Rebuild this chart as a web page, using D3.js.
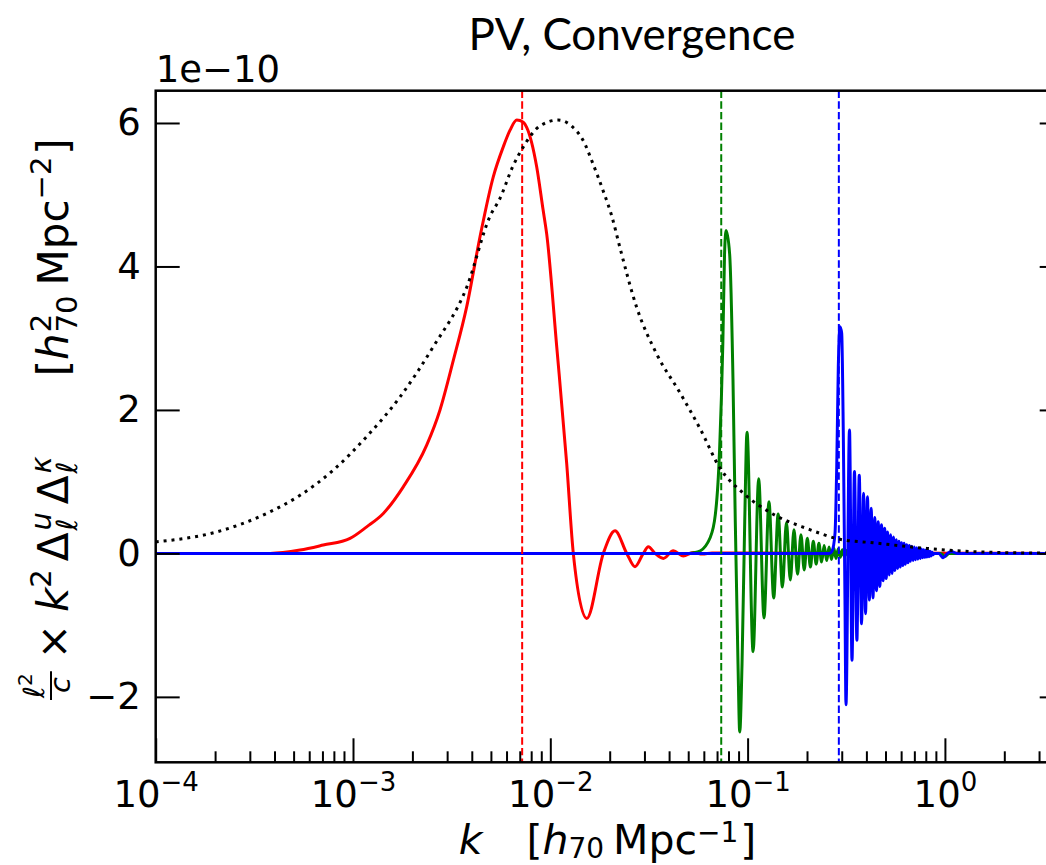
<!DOCTYPE html>
<html><head><meta charset="utf-8">
<script src="https://cdn.jsdelivr.net/npm/d3@7"></script>
<style>body{margin:0;background:#fff}svg{display:block}</style>
</head><body><svg id="c" width="1046" height="865"></svg>
<script>
// ---------------- data ----------------
const xMajorTicks = [1e-4, 1e-3, 1e-2, 1e-1, 1e0];
const xTickExponents = ["−4", "−3", "−2", "−1", "0"];
const yTicks = [-2, 0, 2, 4, 6];
const yTickLabels = ["−2", "0", "2", "4", "6"];
const offsetLabel = "1e−10";
const titleText = "PV, Convergence";
const vlineK = [0.0072, 0.0735, 0.29];

// black dotted curve (units of 1e-10)
const dotK = [1e-4, 2.04e-4, 3.65e-4, 5.39e-4, 7.94e-4, 1.17e-3, 1.73e-3, 2.55e-3, 3.77e-3, 4.95e-3, 5.56e-3, 6.47e-3, 7.27e-3, 8.87e-3, 1.094e-2, 1.303e-2, 1.465e-2, 1.646e-2, 1.85e-2, 2.055e-2, 2.25e-2, 2.74e-2, 3.46e-2, 4.54e-2, 5.74e-2, 7.24e-2, 9.51e-2, 0.135, 0.20, 0.294, 0.433, 0.774, 1.39, 3.03, 4];
const dotV = [0.16, 0.30, 0.557, 0.81, 1.16, 1.625, 2.18, 2.88, 3.71, 4.70, 4.95, 5.40, 5.66, 5.96, 6.04, 5.94, 5.76, 5.43, 5.06, 4.69, 4.27, 3.43, 2.78, 2.24, 1.74, 1.19, 0.84, 0.545, 0.346, 0.197, 0.148, 0.074, 0.024, 0.005, 0.004];

// red curve
const redK = [1e-4, 3.0e-4, 3.80e-4, 5.39e-4, 7.07e-4, 9.66e-4, 1.173e-3, 1.424e-3, 1.798e-3, 2.363e-3, 2.76e-3, 3.224e-3, 3.77e-3, 4.40e-3, 5.14e-3, 5.78e-3, 6.25e-3, 6.76e-3, 7.30e-3, 7.59e-3, 8.53e-3, 9.18e-3, 9.59e-3, 1.078e-2, 1.211e-2, 1.308e-2, 1.53e-2, 1.856e-2, 2.128e-2, 2.44e-2, 2.687e-2, 2.96e-2, 3.14e-2, 3.395e-2, 3.74e-2, 4.20e-2, 4.72e-2, 5.31e-2, 5.9e-2, 6.6e-2, 4];
const redV = [0, 0, 0.0, 0.046, 0.116, 0.209, 0.37, 0.557, 0.928, 1.509, 2.0, 2.69, 3.44, 4.41, 5.25, 5.67, 5.90, 6.04, 6.01, 5.94, 5.39, 4.8, 4.45, 2.88, 1.25, 0, -0.906, 0, 0.315, 0, -0.186, 0, 0.092, 0, -0.07, 0.036, -0.037, 0.014, -0.01, 0.005, 0];

// green curve
const greenK = [1e-4, 0.05, 0.0558, 0.0628, 0.0679, 0.0721, 0.0749, 0.0764, 0.0778, 0.0811, 0.0843, 0.0866, 0.0894, 0.0912, 0.0937, 0.0967, 0.0993, 0.1066, 0.1138, 0.1211, 0.1283, 0.1356, 0.1428, 0.1501, 0.1573, 0.1646, 0.1718, 0.1791, 0.1863, 0.1936, 0.2008, 0.2081, 0.2153, 0.2226, 0.2298, 0.2371, 0.2443, 0.2516, 0.2588, 0.2661, 0.2733, 0.2806, 0.2878, 0.2951, 0.3023, 0.3096, 0.3168, 0.3241, 0.3313, 0.3386, 0.3458, 0.36, 0.95, 1.0, 1.05, 4];
const greenV = [0, 0, 0.02, 0.15, 0.45, 1.44, 2.93, 4.17, 4.50, 4.17, 2.43, 0.45, -1.54, -2.49, -1.54, 0.45, 1.69, -1.37, 1.04, -0.90, 0.72, -0.62, 0.55, -0.47, 0.43, -0.37, 0.33, -0.29, 0.26, -0.23, 0.21, -0.19, 0.17, -0.15, 0.14, -0.12, 0.11, -0.10, 0.09, -0.085, 0.075, -0.07, 0.06, -0.055, 0.05, -0.045, 0.04, -0.035, 0.03, -0.025, 0.02, 0, 0, -0.04, 0, 0];

// blue curve
const blueK = [1e-4, 0.26, 0.2677, 0.2773, 0.2829, 0.2882, 0.2939, 0.2998, 0.3055, 0.3115, 0.3152, 0.3284, 0.3381, 0.3480, 0.3580, 0.3680, 0.3780, 0.3870, 0.3960, 0.4050, 0.4140, 0.4230, 0.4320, 0.4410, 0.4500, 0.4590, 0.4680, 0.4770, 0.4860, 0.4950, 0.5040, 0.5130, 0.5220, 0.5310, 0.5400, 0.5490, 0.5580, 0.5670, 0.5760, 0.5850, 0.5940, 0.6030, 0.6120, 0.6210, 0.6300, 0.6400, 0.6500, 0.6600, 0.6700, 0.6800, 0.6900, 0.7000, 0.7100, 0.7200, 0.7300, 0.7400, 0.7500, 0.7600, 0.7700, 0.7800, 0.7900, 0.8000, 0.8100, 0.8200, 0.8300, 0.8400, 0.8500, 0.8600, 0.8700, 0.8800, 0.9300, 0.9800, 1.0300, 1.0800, 1.1500, 4];
const blueV = [0, 0, 0.03, 0.28, 1.2, 2.6, 3.16, 3.07, 1.67, -0.65, -2.11, 1.72, -1.49, 1.14, -1.21, 1.09, -0.98, 0.84, -0.84, 0.79, -0.65, 0.63, -0.62, 0.50, -0.52, 0.44, -0.46, 0.40, -0.38, 0.35, -0.35, 0.30, -0.30, 0.26, -0.28, 0.23, -0.24, 0.19, -0.21, 0.17, -0.19, 0.15, -0.17, 0.14, -0.15, 0.12, -0.13, 0.11, -0.11, 0.10, -0.10, 0.09, -0.09, 0.08, -0.08, 0.07, -0.07, 0.06, -0.06, 0.05, -0.055, 0.045, -0.05, 0.04, -0.045, 0.03, -0.035, 0.02, -0.02, 0, 0, -0.06, 0, 0.025, 0, 0];

// ---------------- layout ----------------
const X0 = 155.7, X1 = 1063.7, YB = 762.3, YT = 90.7;
const FONT = "'DejaVu Sans', sans-serif";
const TFONT = "Lato, 'Open Sans', sans-serif";
const svg = d3.select("#c");
const x = d3.scaleLog().domain([1e-4, 4]).range([X0, X1]);
const y = d3.scaleLinear().domain([-2.912, 6.45]).range([YB, YT]);

svg.append("defs").append("clipPath").attr("id", "clip")
  .append("rect").attr("x", X0).attr("y", YT).attr("width", X1 - X0).attr("height", YB - YT);

const plot = svg.append("g").attr("clip-path", "url(#clip)");
const line = d3.line().x(d => x(d[0])).y(d => y(d[1])).curve(d3.curveMonotoneX);

plot.append("path").datum(d3.zip(redK, redV)).attr("d", line)
  .attr("fill", "none").attr("stroke", "#ff0000").attr("stroke-width", 3);
plot.append("path").datum(d3.zip(greenK, greenV)).attr("d", line)
  .attr("fill", "none").attr("stroke", "#008000").attr("stroke-width", 3);
plot.append("path").datum(d3.zip(blueK, blueV)).attr("d", line)
  .attr("fill", "none").attr("stroke", "#0000ff").attr("stroke-width", 3);

const vColors = ["#ff0000", "#008000", "#0000ff"];
plot.selectAll("line.vl").data(vlineK).join("line").attr("class", "vl")
  .attr("x1", d => x(d)).attr("x2", d => x(d)).attr("y1", YT).attr("y2", YB)
  .attr("stroke", (d, i) => vColors[i]).attr("stroke-width", 2).attr("stroke-dasharray", "7.4,3.2");

plot.append("path").datum(d3.zip(dotK, dotV)).attr("d", line)
  .attr("fill", "none").attr("stroke", "#000").attr("stroke-width", 3).attr("stroke-dasharray", "3,4.95");

// ---------------- axes ----------------
const minorTicks = [];
for (let e = -4; e <= 0; e++) for (let m = 2; m <= 9; m++) { const v = m * Math.pow(10, e); if (v <= 4) minorTicks.push(v); }

const TF = 37;
const gxMinor = svg.append("g").attr("transform", `translate(0,${YB})`)
  .call(d3.axisBottom(x).tickValues(minorTicks).tickSize(-11).tickFormat(""));
const gx = svg.append("g").attr("transform", `translate(0,${YB})`)
  .call(d3.axisBottom(x).tickValues(xMajorTicks).tickSize(-24).tickFormat(""));
const gy = svg.append("g").attr("transform", `translate(${X0},0)`)
  .call(d3.axisLeft(y).tickValues(yTicks).tickSize(-24).tickPadding(15)
    .tickFormat((d, i) => yTickLabels[i]));
const gyR = svg.append("g").attr("transform", `translate(${X1},0)`)
  .call(d3.axisRight(y).tickValues(yTicks).tickSize(-24).tickFormat(""));

[gxMinor, gx, gy, gyR].forEach(g => {
  g.select(".domain").remove();
  g.selectAll(".tick line").attr("stroke", "#000").attr("stroke-width", 2);
});
gy.selectAll(".tick text").attr("font-family", FONT).attr("font-size", TF).attr("fill", "#000");

gx.selectAll(".tick").each(function (d, i) {
  const t = d3.select(this).append("text").attr("y", 45).attr("fill", "#000")
    .attr("font-family", FONT).attr("font-size", TF).attr("text-anchor", "middle");
  t.append("tspan").text("10");
  t.append("tspan").attr("font-size", 26).attr("dy", -16).text(xTickExponents[i]);
});

svg.append("rect").attr("x", X0).attr("y", YT).attr("width", X1 - X0).attr("height", YB - YT)
  .attr("fill", "none").attr("stroke", "#000").attr("stroke-width", 2.5);

// offset text and title
svg.append("text").attr("x", X0).attr("y", 82).attr("font-family", FONT).attr("font-size", TF).text(offsetLabel);
svg.append("text").attr("x", 632).attr("y", 50).attr("text-anchor", "middle")
  .attr("font-family", TFONT).attr("font-size", 44).text(titleText);

// ---------------- math-like labels ----------------
function run(g, pieces) {
  let cx = 0, lastStart = 0;
  pieces.forEach(p => {
    if (p.gap) cx += p.gap;
    const sx = p.stack ? lastStart : cx;
    const t = g.append("text").attr("x", sx).attr("y", p.dy || 0)
      .attr("font-family", FONT).attr("font-size", p.fs)
      .attr("font-style", p.it ? "italic" : "normal").text(p.t);
    const w = t.node().getComputedTextLength();
    if (p.stack) cx = Math.max(cx, sx + w); else { lastStart = sx; cx = sx + w; }
  });
  return cx;
}
const F = 42, S = 29;

// x label
const FX = 41, SX = 28;
const xl = svg.append("g");
const xw = run(xl, [
  {t: "k", fs: FX, it: true},
  {t: "[", fs: FX, gap: 44},
  {t: "h", fs: FX, it: true},
  {t: "70", fs: SX, dy: 4},
  {t: "Mpc", fs: FX, gap: 9},
  {t: "−1", fs: SX, dy: -12},
  {t: "]", fs: FX, gap: 2}
]);
xl.attr("transform", `translate(${607.5 - xw / 2},854)`);

// y label (rotated)
const yl = svg.append("g").attr("transform", "translate(68,700) rotate(-90)");
const num = yl.append("g").attr("transform", "translate(2,-24)");
const nw = run(num, [{t: "ℓ", fs: S, it: true}, {t: "2", fs: 20, dy: -12}]);
const den = yl.append("g").attr("transform", "translate(7,2)");
const dw = run(den, [{t: "c", fs: S, it: true}]);
const fw = Math.max(nw, dw) + 4;
yl.append("line").attr("x1", 0).attr("x2", fw).attr("y1", -17).attr("y2", -17).attr("stroke", "#000").attr("stroke-width", 2);
const rest = yl.append("g").attr("transform", `translate(${fw + 4},0)`);
run(rest, [
  {t: "×", fs: F, gap: 8},
  {t: "k", fs: F, it: true, gap: 12},
  {t: "2", fs: S, dy: -17},
  {t: "Δ", fs: F, gap: 8},
  {t: "u", fs: S, it: true, dy: -17, gap: 2},
  {t: "ℓ", fs: S, it: true, dy: 9, stack: true},
  {t: "Δ", fs: F, gap: 8},
  {t: "κ", fs: S, it: true, dy: -17, gap: 2},
  {t: "ℓ", fs: S, it: true, dy: 9, stack: true},
  {t: "[", fs: F, gap: 80},
  {t: "h", fs: F, it: true},
  {t: "2", fs: S, dy: -17, gap: 1},
  {t: "70", fs: S, dy: 9, stack: true},
  {t: "Mpc", fs: F, gap: 10},
  {t: "−2", fs: S, dy: -17},
  {t: "]", fs: F, gap: 2}
]);
</script></body></html>
